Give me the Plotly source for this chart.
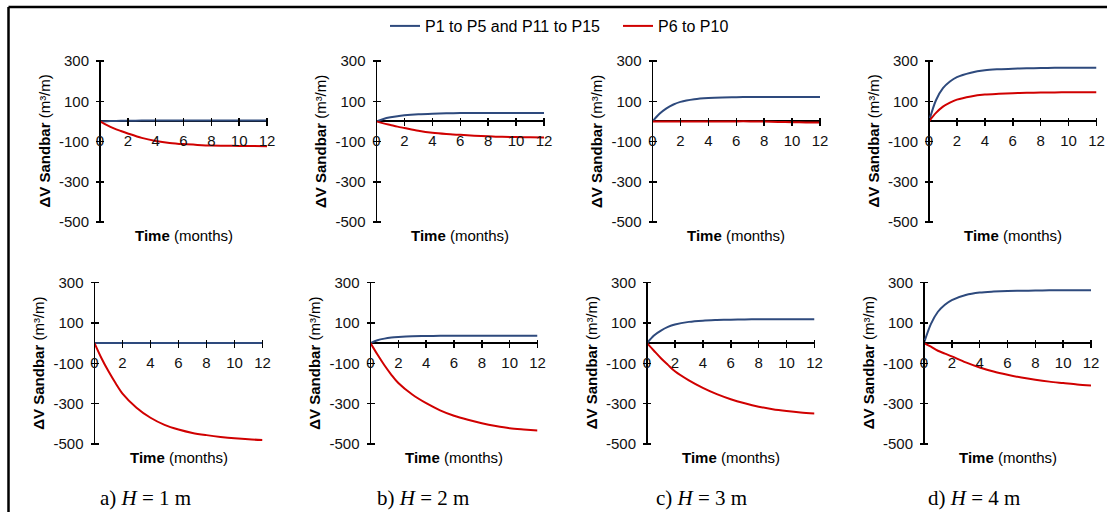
import plotly.graph_objects as go

# ---------------- data ----------------
months = [0, 0.5, 1, 1.5, 2, 3, 4, 5, 6, 7, 8, 9, 10, 11, 12]

series_names = ["P1 to P5 and P11 to P15", "P6 to P10"]

# top row
top_a_blue = [0, 1, 2, 3, 3, 4, 4, 4, 4, 4, 4, 4, 4, 4, 4]
top_a_red = [0, -19, -35, -48, -60, -82, -97, -107, -113, -117, -120, -121, -122, -122, -123]
top_b_blue = [0, 12, 20, 26, 30, 35, 38, 40, 41, 41, 42, 42, 42, 42, 42]
top_b_red = [0, -10, -18, -26, -33, -47, -57, -63, -67, -71, -74, -77, -78, -79, -80]
top_c_blue = [0, 38, 65, 84, 97, 110, 116, 119, 120, 121, 121, 121, 121, 121, 121]
top_c_red = [0, 0, 0, 0, 0, 0, 0, 0, 0, 0, -1, -3, -4, -5, -5]
top_d_blue = [0, 105, 165, 198, 220, 242, 254, 259, 262, 264, 265, 266, 266, 266, 266]
top_d_red = [0, 42, 73, 93, 108, 124, 133, 137, 140, 142, 143, 144, 145, 145, 145]

# bottom row
bot_a_blue = [0, 0, 0, 0, 0, 0, 0, 0, 0, 0, 0, 0, 0, 0, 0]
bot_a_red = [0, -75, -140, -198, -250, -320, -370, -405, -428, -445, -456, -465, -472, -477, -480]
bot_b_blue = [0, 14, 22, 27, 30, 34, 35, 36, 36, 36, 36, 36, 36, 36, 36]
bot_b_red = [0, -57, -110, -157, -198, -255, -298, -333, -360, -380, -397, -411, -422, -428, -433]
bot_c_blue = [0, 38, 62, 80, 92, 105, 111, 114, 116, 117, 118, 118, 118, 118, 118]
bot_c_red = [0, -38, -75, -108, -140, -185, -222, -253, -278, -298, -315, -328, -337, -344, -349]
bot_d_blue = [0, 95, 155, 190, 213, 238, 250, 255, 258, 259, 260, 261, 261, 261, 261]
bot_d_red = [0, -18, -38, -52, -66, -96, -121, -141, -157, -171, -182, -191, -198, -205, -210]

x_ticks = [0, 2, 4, 6, 8, 10, 12]
y_ticks = [-500, -300, -100, 100, 300]
y_tick_labels = ["-500", "-300", "-100", "100", "300"]
captions = ["a) <i>H</i> = 1 m", "b) <i>H</i> = 2 m", "c) <i>H</i> = 3 m", "d) <i>H</i> = 4 m"]

panels = [
    (top_a_blue, top_a_red), (top_b_blue, top_b_red),
    (top_c_blue, top_c_red), (top_d_blue, top_d_red),
    (bot_a_blue, bot_a_red), (bot_b_blue, bot_b_red),
    (bot_c_blue, bot_c_red), (bot_d_blue, bot_d_red),
]

# ---------------- layout geometry (pixels) ----------------
W, H = 1107, 512
BLUE = "#2E4A7D"
RED = "#D00000"
FONT = "Liberation Sans"

# plot-area boxes: (left, right, top, bottom)
boxes = [
    (100, 267, 61, 222), (376.5, 544, 61, 222), (652.5, 820, 61, 222), (929, 1096.5, 61, 222),
    (94.5, 262.5, 282.5, 444), (370.5, 537.5, 282.5, 444), (647, 814.5, 282.5, 444), (924, 1091, 282.5, 444),
]
caption_x = [146, 423, 701, 974]

fig = go.Figure()
annotations = []
layout = {}

for i, ((blue, red), (l, r, t, b)) in enumerate(zip(panels, boxes)):
    n = i + 1
    xa = "x" if n == 1 else f"x{n}"
    ya = "y" if n == 1 else f"y{n}"
    fig.add_trace(go.Scatter(x=months, y=blue, mode="lines", name=series_names[0],
                             line=dict(color=BLUE, width=2, shape="spline", smoothing=0.9),
                             xaxis=xa, yaxis=ya, showlegend=(n == 1), legendrank=1))
    fig.add_trace(go.Scatter(x=months, y=red, mode="lines", name=series_names[1],
                             line=dict(color=RED, width=2, shape="spline", smoothing=0.9),
                             xaxis=xa, yaxis=ya, showlegend=(n == 1), legendrank=2))
    zero_px = t + (b - t) * 300 / 800
    xkey = "xaxis" if n == 1 else f"xaxis{n}"
    ykey = "yaxis" if n == 1 else f"yaxis{n}"
    layout[xkey] = dict(
        domain=[l / W, r / W], range=[0, 12], anchor="free",
        position=1 - (zero_px - 4) / H, side="bottom",
        tickmode="array", tickvals=x_ticks, ticks="outside", ticklen=8, tickwidth=1.5,
        tickcolor="black", showline=False, showgrid=False,
        zeroline=True, zerolinecolor="black", zerolinewidth=1.8,
        tickfont=dict(family=FONT, size=15, color="#111"), ticklabelstandoff=2,
        automargin=False, fixedrange=True,
    )
    layout[ykey] = dict(
        domain=[1 - b / H, 1 - t / H], range=[-500, 300], anchor="free",
        position=(l + 4) / W, side="left",
        tickmode="array", tickvals=y_ticks, ticktext=y_tick_labels,
        ticks="outside", ticklen=8, tickwidth=1.5,
        tickcolor="black", showline=False, showgrid=False,
        zeroline=True, zerolinecolor="black", zerolinewidth=1.8,
        tickfont=dict(family=FONT, size=15, color="#111"), ticklabelstandoff=4,
        automargin=False, fixedrange=True,
    )
    annotations.append(dict(
        text="<b>Time</b> (months)", xref="paper", yref="paper",
        x=(l + r) / 2 / W, y=1 - (b + 13.5) / H, xanchor="center", yanchor="middle",
        showarrow=False, font=dict(family=FONT, size=15, color="black")))
    annotations.append(dict(
        text="<b>ΔV Sandbar</b> (m³/m)", xref="paper", yref="paper", textangle=-90,
        x=(l - 56) / W, y=1 - (t + b) / 2 / H, xanchor="center", yanchor="middle",
        showarrow=False, font=dict(family=FONT, size=15, color="black")))

for cx, cap in zip(caption_x, captions):
    annotations.append(dict(
        text=cap, xref="paper", yref="paper", x=cx / W, y=1 - 498 / H,
        xanchor="center", yanchor="middle", showarrow=False,
        font=dict(family="Liberation Serif", size=21, color="black")))

fig.update_layout(
    width=W, height=H, margin=dict(l=0, r=0, t=0, b=0, pad=0, autoexpand=False),
    paper_bgcolor="white", plot_bgcolor="white",
    font=dict(family=FONT, size=15, color="black"),
    legend=dict(orientation="h", x=385 / W, xanchor="left", y=1 - 26 / H, yanchor="middle",
                font=dict(family=FONT, size=16, color="black"), itemwidth=30,
                entrywidth=188, entrywidthmode="pixels",
                bgcolor="rgba(0,0,0,0)"),
    annotations=annotations,
    shapes=[
        dict(type="line", xref="paper", yref="paper", x0=8.5 / W, x1=1.0, y0=1 - 7 / H, y1=1 - 7 / H,
             line=dict(color="black", width=2.5)),
        dict(type="line", xref="paper", yref="paper", x0=8.5 / W, x1=8.5 / W, y0=1 - 7 / H, y1=0,
             line=dict(color="black", width=2.5)),
    ],
    **layout,
)

fig.write_html(
    "out.html",
    config={"displayModeBar": False, "staticPlot": True},
    post_script="document.body.style.margin='0px';document.body.style.overflow='hidden';",
)
